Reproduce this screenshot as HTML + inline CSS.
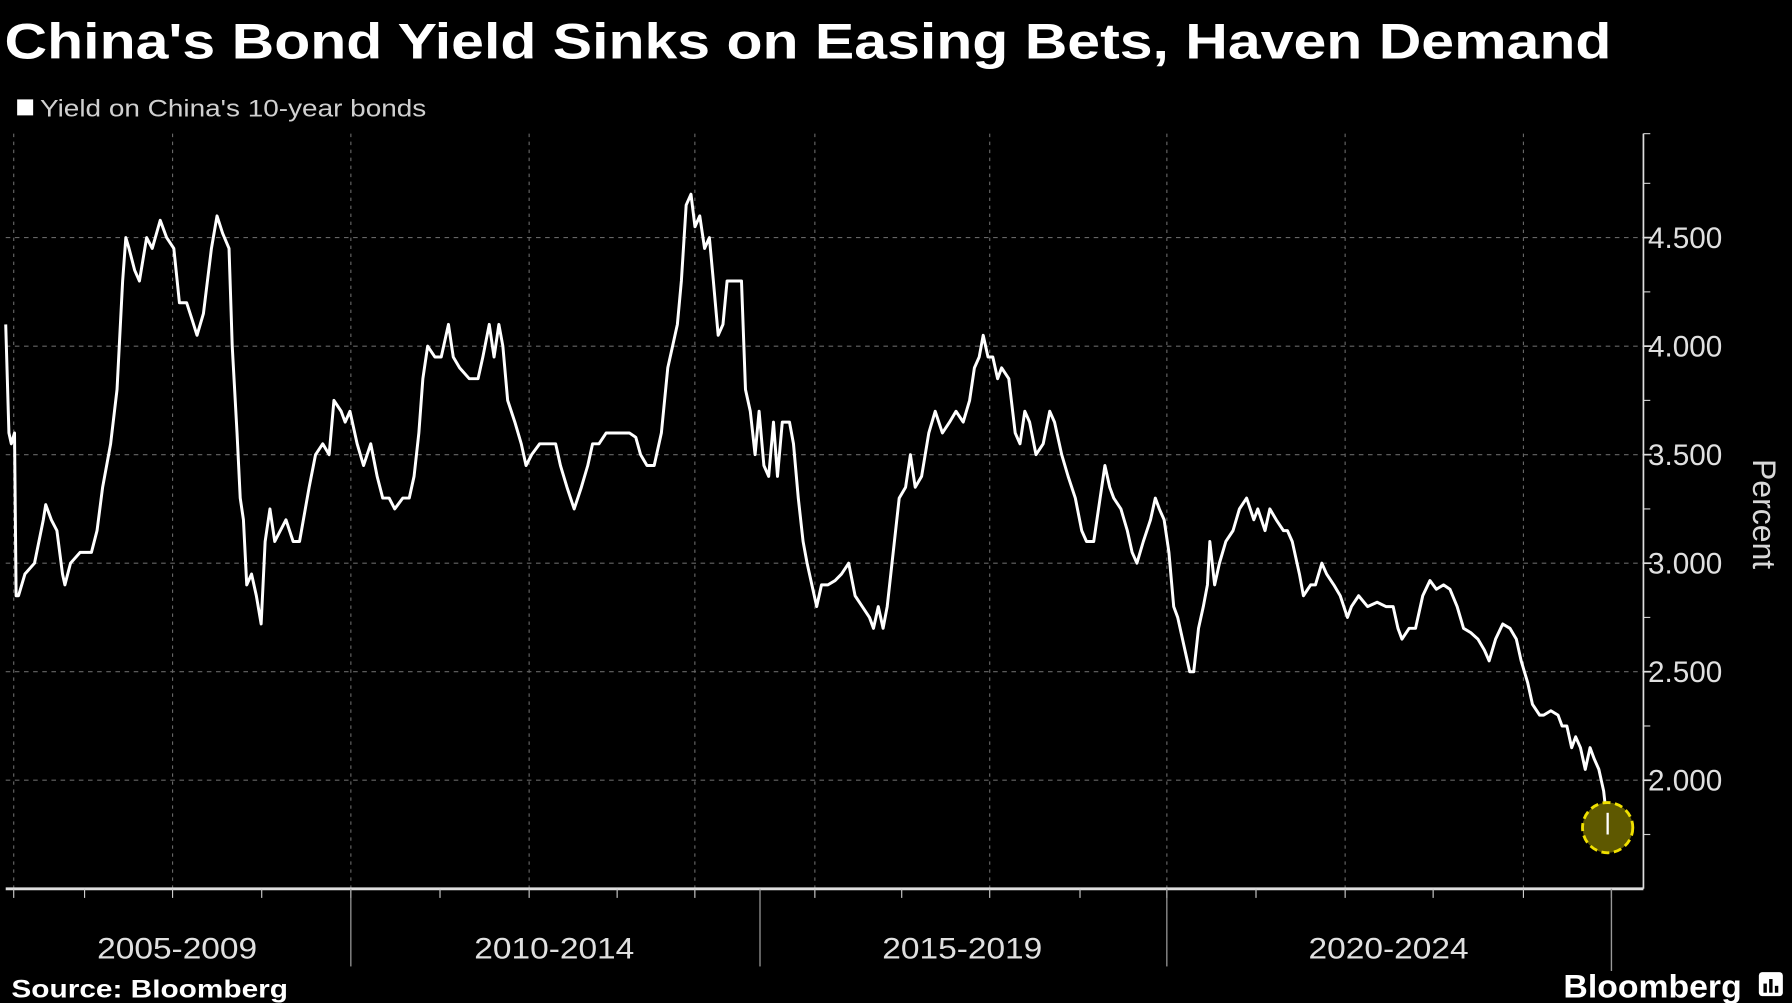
<!DOCTYPE html>
<html><head><meta charset="utf-8"><style>
html,body{margin:0;padding:0;background:#000;}
svg{display:block;}
text{font-family:"Liberation Sans","DejaVu Sans",sans-serif;}
</style></head><body>
<svg id="chart" width="1792" height="1003" viewBox="0 0 1568 878" preserveAspectRatio="none" xmlns="http://www.w3.org/2000/svg">
<rect x="0" y="0" width="1568" height="878" fill="#000"/>
<text x="4" y="51" fill="#fff" font-size="44" font-weight="bold" textLength="1406" lengthAdjust="spacingAndGlyphs">China's Bond Yield Sinks on Easing Bets, Haven Demand</text>
<rect x="15" y="87" width="14" height="14" fill="#fff"/>
<text x="35" y="102" fill="#d0d0d0" font-size="21" textLength="338" lengthAdjust="spacingAndGlyphs">Yield on China's 10-year bonds</text>
<g id="grid"></g>
<g id="axes"></g>
<g id="series"></g>
<text transform="translate(1534,450) rotate(90)" text-anchor="middle" fill="#d8d8d8" font-size="28">Percent</text>
<text x="10" y="873" fill="#fff" font-size="22" font-weight="bold" textLength="242" lengthAdjust="spacingAndGlyphs">Source: Bloomberg</text>
<text x="1368" y="873" fill="#fff" font-size="28" font-weight="bold" textLength="156" lengthAdjust="spacingAndGlyphs">Bloomberg</text>
<g>
<rect x="1539" y="851" width="21" height="21" rx="3" fill="#fff"/>
<rect x="1543" y="861" width="3" height="8" fill="#000"/>
<rect x="1548" y="857" width="3" height="12" fill="#000"/>
<rect x="1553" y="863" width="3" height="6" fill="#000"/>
</g>
</svg>
<script>
const dates = [2005.00,2005.04,2005.07,2005.11,2005.13,2005.16,2005.24,2005.36,2005.47,2005.50,2005.57,2005.64,2005.71,2005.74,2005.81,2005.93,
2006.07,2006.14,2006.21,2006.31,2006.39,2006.46,2006.50,2006.54,2006.61,2006.67,2006.76,2006.83,2006.93,
2007.01,2007.10,2007.17,2007.26,2007.33,2007.39,2007.47,2007.57,2007.64,2007.71,2007.79,2007.83,2007.89,2007.93,2007.97,
2008.01,2008.07,2008.13,2008.19,2008.24,2008.30,2008.36,2008.43,2008.50,2008.59,2008.67,2008.79,2008.87,2008.96,
2009.04,2009.10,2009.19,2009.24,2009.30,2009.39,2009.47,2009.56,2009.64,2009.71,2009.79,2009.86,2009.96,
2010.04,2010.10,2010.16,2010.21,2010.27,2010.36,2010.44,2010.53,2010.59,2010.67,2010.79,2010.90,2010.96,
2011.04,2011.10,2011.16,2011.21,2011.27,2011.36,2011.44,2011.50,2011.57,2011.67,2011.79,2011.87,2011.93,
2012.01,2012.10,2012.19,2012.27,2012.33,2012.41,2012.50,2012.64,2012.79,2012.87,2012.93,
2013.01,2013.10,2013.19,2013.27,2013.33,2013.39,2013.44,2013.50,2013.56,2013.61,2013.67,2013.73,2013.79,2013.84,2013.90,2013.96,
2014.01,2014.10,2014.19,2014.24,2014.30,2014.36,2014.41,2014.47,2014.53,2014.59,2014.64,2014.70,2014.79,2014.84,2014.90,2014.96,
2015.01,2015.07,2015.13,2015.19,2015.27,2015.36,2015.44,2015.53,2015.61,2015.70,2015.79,2015.84,2015.90,2015.96,
2016.01,2016.07,2016.16,2016.24,2016.30,2016.36,2016.44,2016.53,2016.61,2016.70,2016.79,2016.87,2016.96,
2017.04,2017.10,2017.16,2017.21,2017.27,2017.33,2017.39,2017.44,2017.53,2017.61,2017.67,2017.73,2017.79,2017.87,2017.96,
2018.04,2018.10,2018.19,2018.27,2018.36,2018.44,2018.50,2018.59,2018.67,2018.73,2018.79,2018.84,2018.93,
2019.01,2019.07,2019.13,2019.21,2019.30,2019.36,2019.41,2019.47,2019.53,2019.59,2019.64,2019.73,2019.79,2019.84,2019.90,2019.96,
2020.01,2020.04,2020.10,2020.16,2020.24,2020.33,2020.41,2020.50,2020.59,2020.64,2020.73,2020.79,2020.87,2020.96,
2021.01,2021.07,2021.16,2021.21,2021.30,2021.36,2021.44,2021.50,2021.59,2021.67,2021.76,2021.81,2021.90,
2022.01,2022.13,2022.24,2022.33,2022.39,2022.44,2022.53,2022.61,2022.70,2022.79,2022.87,2022.96,
2023.04,2023.13,2023.21,2023.30,2023.39,2023.47,2023.53,2023.61,2023.70,2023.79,2023.87,2023.93,
2024.01,2024.07,2024.16,2024.21,2024.30,2024.39,2024.44,2024.50,2024.56,2024.61,2024.67,2024.73,2024.79,2024.84,2024.90,2024.96,2024.99,2025.01];
const yields = [4.10,3.60,3.55,3.60,2.85,2.85,2.95,3.00,3.20,3.27,3.20,3.15,2.95,2.90,3.00,3.05,
3.05,3.15,3.35,3.55,3.80,4.30,4.50,4.45,4.35,4.30,4.50,4.45,4.58,
4.50,4.45,4.20,4.20,4.12,4.05,4.15,4.45,4.60,4.52,4.45,4.00,3.60,3.30,3.20,
2.90,2.95,2.85,2.72,3.10,3.25,3.10,3.15,3.20,3.10,3.10,3.35,3.50,3.55,
3.50,3.75,3.70,3.65,3.70,3.55,3.45,3.55,3.40,3.30,3.30,3.25,3.30,
3.30,3.40,3.60,3.85,4.00,3.95,3.95,4.10,3.95,3.90,3.85,3.85,3.95,
4.10,3.95,4.10,4.00,3.75,3.65,3.55,3.45,3.50,3.55,3.55,3.55,3.45,
3.35,3.25,3.35,3.45,3.55,3.55,3.60,3.60,3.60,3.58,3.50,
3.45,3.45,3.60,3.90,4.00,4.10,4.30,4.65,4.70,4.55,4.60,4.45,4.50,4.30,4.05,4.10,
4.30,4.30,4.30,3.80,3.70,3.50,3.70,3.45,3.40,3.65,3.40,3.65,3.65,3.55,3.30,3.10,
3.00,2.90,2.80,2.90,2.90,2.92,2.95,3.00,2.85,2.80,2.75,2.70,2.80,2.70,
2.80,3.00,3.30,3.35,3.50,3.35,3.40,3.60,3.70,3.60,3.65,3.70,3.65,
3.75,3.90,3.95,4.05,3.95,3.95,3.85,3.90,3.85,3.60,3.55,3.70,3.65,3.50,3.55,
3.70,3.65,3.50,3.40,3.30,3.15,3.10,3.10,3.30,3.45,3.35,3.30,3.25,
3.15,3.05,3.00,3.10,3.20,3.30,3.25,3.20,3.05,2.80,2.75,2.60,2.50,2.50,2.70,2.80,
2.90,3.10,2.90,3.00,3.10,3.15,3.25,3.30,3.20,3.25,3.15,3.25,3.20,3.15,
3.15,3.10,2.95,2.85,2.90,2.90,3.00,2.95,2.90,2.85,2.75,2.80,2.85,
2.80,2.82,2.80,2.80,2.70,2.65,2.70,2.70,2.85,2.92,2.88,2.90,
2.88,2.80,2.70,2.68,2.65,2.60,2.55,2.65,2.72,2.70,2.65,2.55,
2.45,2.35,2.30,2.30,2.32,2.30,2.25,2.25,2.15,2.20,2.15,2.05,2.15,2.10,2.05,1.95,1.85,1.75];
const yTicks = [2.0,2.5,3.0,3.5,4.0,4.5];
const yTickLabels = ["2.000","2.500","3.000","3.500","4.000","4.500"];
const periodLabels = ["2005-2009","2010-2014","2015-2019","2020-2024"];

const NS = "http://www.w3.org/2000/svg";
const L = 5, R = 1438, T = 117, B = 778;
const xScale = t => 5 + (t - 2005) * (1401 / 20);
const yScale = v => 683 - (v - 2) * 190;
function mk(tag, attrs, parent){const e=document.createElementNS(NS,tag);for(const k in attrs)e.setAttribute(k,attrs[k]);parent.appendChild(e);return e;}
const grid=document.getElementById('grid'), axes=document.getElementById('axes'), series=document.getElementById('series');

yTicks.forEach((v,i)=>{
  const y=yScale(v);
  const g=mk('line',{x1:L,x2:R,y1:y,y2:y,stroke:'#666','stroke-width':1,'stroke-dasharray':'4,4'},grid);
  
  
  const tk=mk('line',{x1:R,x2:R+7,y1:y,y2:y,stroke:'#ddd','stroke-width':1.5},axes);
  
  
  const tx=mk('text',{x:R+4,y:y+9,fill:'#e0e0e0','font-size':26},axes);
  tx.textContent=yTickLabels[i];
  
  
});
for(let v=1.75; v<=4.8; v+=0.5){
  const y=yScale(v);
  const m=mk('line',{x1:R,x2:R+6,y1:y,y2:y,stroke:'#ccc','stroke-width':1},axes);
  
  
}
mk('line',{x1:R,x2:R+6,y1:T,y2:T,stroke:'#ccc','stroke-width':1},axes);
[12,151,307,463,608,713,866,1021,1177,1333].forEach(x=>{
  const g=mk('line',{x1:x,x2:x,y1:T,y2:B,stroke:'#666','stroke-width':1,'stroke-dasharray':'3,4'},grid);
  
  
});
const ya=mk('line',{x1:R,x2:R,y1:T,y2:B,stroke:'#ddd','stroke-width':1.5},axes);


const xa=mk('line',{x1:L,x2:R,y1:B,y2:B,stroke:'#ddd','stroke-width':2.5},axes);


[12,74,151,229,307,385,463,540,608,713,789,866,945,1021,1099,1177,1254,1333,1410].forEach(x=>{
  const t=mk('line',{x1:x,x2:x,y1:B,y2:B+8,stroke:'#ccc','stroke-width':1},axes);
  
  
});
[307,665,1021].forEach(x=>{
  const s=mk('line',{x1:x,x2:x,y1:B,y2:846,stroke:'#aaa','stroke-width':1},axes);
  
  
});
const lastSep=mk('line',{x1:1410,x2:1410,y1:B,y2:850,stroke:'#999','stroke-width':1.2},axes);


[155,485,842,1215].forEach((x,i)=>{
  const t=mk('text',{x:x,y:839,fill:'#e0e0e0','font-size':26,'text-anchor':'middle',textLength:140,lengthAdjust:'spacingAndGlyphs'},axes);
  t.textContent=periodLabels[i];
  
  
});
let d='';
dates.forEach((t,i)=>{ d += (i?'L':'M') + xScale(t).toFixed(1) + ',' + yScale(yields[i]).toFixed(1); });
const path=mk('path',{d:d,fill:'none',stroke:'#fff','stroke-width':2.6,'stroke-linejoin':'round'},series);


const n=dates.length-1;
const c=mk('circle',{cx:xScale(dates[n]),cy:yScale(yields[n])-6,r:22,fill:'#5e5800',stroke:'#f0e000','stroke-width':2.5,'stroke-dasharray':'7,4'},series);


const tail=mk('line',{x1:xScale(dates[n]),x2:xScale(dates[n]),y1:yScale(yields[n-1]),y2:yScale(yields[n]),stroke:'#fff','stroke-width':2},series);


</script>
</body></html>
